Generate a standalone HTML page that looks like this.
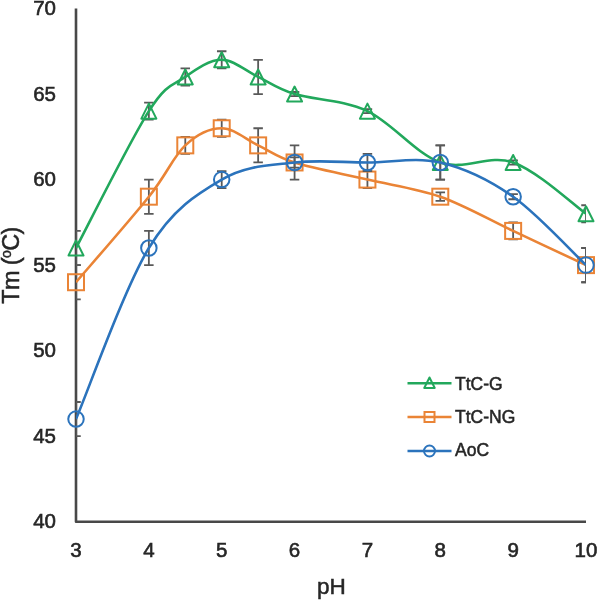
<!DOCTYPE html>
<html><head><meta charset="utf-8"><style>
html,body{margin:0;padding:0;background:#fff;}
svg{display:block;filter:blur(0.45px);}
.t{font-family:"Liberation Sans",sans-serif;font-size:20.5px;fill:#262626;stroke:#262626;stroke-width:0.6px;}
.ax{font-family:"Liberation Sans",sans-serif;font-size:22px;fill:#262626;stroke:#262626;stroke-width:0.5px;}
.lg{font-family:"Liberation Sans",sans-serif;font-size:17.5px;fill:#262626;stroke:#262626;stroke-width:0.5px;}
</style></head><body>
<svg width="598" height="600" viewBox="0 0 598 600">
<path d="M76,8.5V521.75H586" fill="none" stroke="#484848" stroke-width="2.6" stroke-linejoin="round"/><defs><clipPath id="pa"><rect x="76" y="0" width="510" height="521.5"/></clipPath></defs><g clip-path="url(#pa)"><g stroke="#595959" stroke-width="1.8" fill="none"><path d="M76.00,230.91V265.12M71.25,230.91H80.75M71.25,265.12H80.75"/><path d="M148.86,102.60V119.70M144.11,102.60H153.61M144.11,119.70H153.61"/><path d="M185.29,68.38V85.49M180.54,68.38H190.04M180.54,85.49H190.04"/><path d="M221.71,51.27V68.38M216.96,51.27H226.46M216.96,68.38H226.46"/><path d="M258.14,59.82V94.04M253.39,59.82H262.89M253.39,94.04H262.89"/><path d="M294.57,91.99V96.09M289.82,91.99H299.32M289.82,96.09H299.32"/><path d="M367.43,109.10V113.20M362.68,109.10H372.18M362.68,113.20H372.18"/><path d="M440.29,145.37V179.58M435.54,145.37H445.04M435.54,179.58H445.04"/><path d="M513.14,160.42V164.53M508.39,160.42H517.89M508.39,164.53H517.89"/><path d="M586.00,205.25V222.35M581.25,205.25H590.75M581.25,222.35H590.75"/></g><path d="M76.00,248.02 C88.14,225.21 130.64,139.66 148.86,111.15 C167.07,82.64 173.14,85.49 185.29,76.93 C197.43,68.38 209.57,59.82 221.71,59.82 C233.86,59.82 246.00,71.23 258.14,76.93 C270.29,82.64 276.36,88.34 294.57,94.04 C312.79,99.74 343.14,99.74 367.43,111.15 C391.71,122.56 416.00,153.92 440.29,162.47 C464.57,171.03 488.86,153.92 513.14,162.47 C537.43,171.03 573.86,205.25 586.00,213.80" fill="none" stroke="#22a85c" stroke-width="2.6"/></g><path d="M76.00,240.52L83.50,255.52L68.50,255.52Z" fill="none" stroke="#22a85c" stroke-width="2" stroke-linejoin="round"/><path d="M148.86,103.65L156.36,118.65L141.36,118.65Z" fill="none" stroke="#22a85c" stroke-width="2" stroke-linejoin="round"/><path d="M185.29,69.43L192.79,84.43L177.79,84.43Z" fill="none" stroke="#22a85c" stroke-width="2" stroke-linejoin="round"/><path d="M221.71,52.32L229.21,67.32L214.21,67.32Z" fill="none" stroke="#22a85c" stroke-width="2" stroke-linejoin="round"/><path d="M258.14,69.43L265.64,84.43L250.64,84.43Z" fill="none" stroke="#22a85c" stroke-width="2" stroke-linejoin="round"/><path d="M294.57,86.54L302.07,101.54L287.07,101.54Z" fill="none" stroke="#22a85c" stroke-width="2" stroke-linejoin="round"/><path d="M367.43,103.65L374.93,118.65L359.93,118.65Z" fill="none" stroke="#22a85c" stroke-width="2" stroke-linejoin="round"/><path d="M440.29,154.97L447.79,169.97L432.79,169.97Z" fill="none" stroke="#22a85c" stroke-width="2" stroke-linejoin="round"/><path d="M513.14,154.97L520.64,169.97L505.64,169.97Z" fill="none" stroke="#22a85c" stroke-width="2" stroke-linejoin="round"/><path d="M586.00,206.30L593.50,221.30L578.50,221.30Z" fill="none" stroke="#22a85c" stroke-width="2" stroke-linejoin="round"/><g clip-path="url(#pa)"><g stroke="#595959" stroke-width="1.8" fill="none"><path d="M76.00,265.12V299.34M71.25,265.12H80.75M71.25,299.34H80.75"/><path d="M148.86,179.58V213.80M144.11,179.58H153.61M144.11,213.80H153.61"/><path d="M185.29,136.81V153.92M180.54,136.81H190.04M180.54,153.92H190.04"/><path d="M221.71,119.70V136.81M216.96,119.70H226.46M216.96,136.81H226.46"/><path d="M258.14,128.26V162.47M253.39,128.26H262.89M253.39,162.47H262.89"/><path d="M294.57,157.34V167.61M289.82,157.34H299.32M289.82,167.61H299.32"/><path d="M367.43,171.03V188.14M362.68,171.03H372.18M362.68,188.14H372.18"/><path d="M440.29,192.41V200.97M435.54,192.41H445.04M435.54,200.97H445.04"/><path d="M513.14,222.35V239.46M508.39,222.35H517.89M508.39,239.46H517.89"/><path d="M586.00,248.02V282.23M581.25,248.02H590.75M581.25,282.23H590.75"/></g><path d="M76.00,282.23 C88.14,267.98 130.64,219.50 148.86,196.69 C167.07,173.88 173.14,156.77 185.29,145.37 C197.43,133.96 209.57,128.26 221.71,128.26 C233.86,128.26 246.00,139.66 258.14,145.37 C270.29,151.07 276.36,156.77 294.57,162.47 C312.79,168.18 343.14,173.88 367.43,179.58 C391.71,185.29 416.00,188.14 440.29,196.69 C464.57,205.25 488.86,219.50 513.14,230.91 C537.43,242.31 573.86,259.42 586.00,265.12" fill="none" stroke="#ea8436" stroke-width="2.6"/></g><rect x="68.00" y="274.23" width="16" height="16" fill="none" stroke="#ea8436" stroke-width="2"/><rect x="140.86" y="188.69" width="16" height="16" fill="none" stroke="#ea8436" stroke-width="2"/><rect x="177.29" y="137.37" width="16" height="16" fill="none" stroke="#ea8436" stroke-width="2"/><rect x="213.71" y="120.26" width="16" height="16" fill="none" stroke="#ea8436" stroke-width="2"/><rect x="250.14" y="137.37" width="16" height="16" fill="none" stroke="#ea8436" stroke-width="2"/><rect x="286.57" y="154.47" width="16" height="16" fill="none" stroke="#ea8436" stroke-width="2"/><rect x="359.43" y="171.58" width="16" height="16" fill="none" stroke="#ea8436" stroke-width="2"/><rect x="432.29" y="188.69" width="16" height="16" fill="none" stroke="#ea8436" stroke-width="2"/><rect x="505.14" y="222.91" width="16" height="16" fill="none" stroke="#ea8436" stroke-width="2"/><rect x="578.00" y="257.12" width="16" height="16" fill="none" stroke="#ea8436" stroke-width="2"/><g clip-path="url(#pa)"><g stroke="#595959" stroke-width="1.8" fill="none"><path d="M76.00,401.99V436.21M71.25,401.99H80.75M71.25,436.21H80.75"/><path d="M148.86,230.91V265.12M144.11,230.91H153.61M144.11,265.12H153.61"/><path d="M221.71,171.03V188.14M216.96,171.03H226.46M216.96,188.14H226.46"/><path d="M294.57,145.37V179.58M289.82,145.37H299.32M289.82,179.58H299.32"/><path d="M367.43,153.92V171.03M362.68,153.92H372.18M362.68,171.03H372.18"/><path d="M440.29,145.37V179.58M435.54,145.37H445.04M435.54,179.58H445.04"/><path d="M513.14,194.13V199.26M508.39,194.13H517.89M508.39,199.26H517.89"/><path d="M586.00,248.02V282.23M581.25,248.02H590.75M581.25,282.23H590.75"/></g><path d="M76.00,419.10 C88.14,390.59 124.57,287.94 148.86,248.02 C173.14,208.10 197.43,193.84 221.71,179.58 C246.00,165.33 270.29,165.33 294.57,162.47 C318.86,159.62 343.14,162.47 367.43,162.47 C391.71,162.47 416.00,156.77 440.29,162.47 C464.57,168.18 488.86,179.58 513.14,196.69 C537.43,213.80 573.86,253.72 586.00,265.12" fill="none" stroke="#2b73bc" stroke-width="2.6"/></g><circle cx="76.00" cy="419.10" r="7.75" fill="none" stroke="#2b73bc" stroke-width="2"/><circle cx="148.86" cy="248.02" r="7.75" fill="none" stroke="#2b73bc" stroke-width="2"/><circle cx="221.71" cy="179.58" r="7.75" fill="none" stroke="#2b73bc" stroke-width="2"/><circle cx="294.57" cy="162.47" r="7.75" fill="none" stroke="#2b73bc" stroke-width="2"/><circle cx="367.43" cy="162.47" r="7.75" fill="none" stroke="#2b73bc" stroke-width="2"/><circle cx="440.29" cy="162.47" r="7.75" fill="none" stroke="#2b73bc" stroke-width="2"/><circle cx="513.14" cy="196.69" r="7.75" fill="none" stroke="#2b73bc" stroke-width="2"/><circle cx="586.00" cy="265.12" r="7.75" fill="none" stroke="#2b73bc" stroke-width="2"/><path d="M407.5,383.2H451.5" stroke="#22a85c" stroke-width="2.4"/><path d="M429.50,377.45L434.75,387.95L424.25,387.95Z" fill="none" stroke="#22a85c" stroke-width="2" stroke-linejoin="round"/><path d="M407.5,417H451.5" stroke="#ea8436" stroke-width="2.4"/><rect x="424.50" y="412.00" width="10" height="10" fill="none" stroke="#ea8436" stroke-width="2"/><path d="M407.5,451H451.5" stroke="#2b73bc" stroke-width="2.4"/><circle cx="429.50" cy="451.00" r="5.5" fill="none" stroke="#2b73bc" stroke-width="2"/>
<text x="56" y="528.25" text-anchor="end" class="t">40</text><text x="56" y="442.71" text-anchor="end" class="t">45</text><text x="56" y="357.17" text-anchor="end" class="t">50</text><text x="56" y="271.62" text-anchor="end" class="t">55</text><text x="56" y="186.08" text-anchor="end" class="t">60</text><text x="56" y="100.54" text-anchor="end" class="t">65</text><text x="56" y="15.00" text-anchor="end" class="t">70</text><text x="76.00" y="556.5" text-anchor="middle" class="t">3</text><text x="148.86" y="556.5" text-anchor="middle" class="t">4</text><text x="221.71" y="556.5" text-anchor="middle" class="t">5</text><text x="294.57" y="556.5" text-anchor="middle" class="t">6</text><text x="367.43" y="556.5" text-anchor="middle" class="t">7</text><text x="440.29" y="556.5" text-anchor="middle" class="t">8</text><text x="513.14" y="556.5" text-anchor="middle" class="t">9</text><text x="586.00" y="556.5" text-anchor="middle" class="t">10</text><text x="331.5" y="594" text-anchor="middle" class="ax" style="font-size:22.5px">pH</text><text transform="translate(19,265.5) rotate(-90)" text-anchor="middle" class="ax" style="font-size:23.5px;letter-spacing:-0.6px">Tm (<tspan font-size="14" dy="-8.5">o</tspan><tspan dy="8.5">C)</tspan></text><text x="455" y="389.60" class="lg">TtC-G</text><text x="455" y="422.80" class="lg">TtC-NG</text><text x="455" y="456.40" class="lg">AoC</text>
</svg>
</body></html>
